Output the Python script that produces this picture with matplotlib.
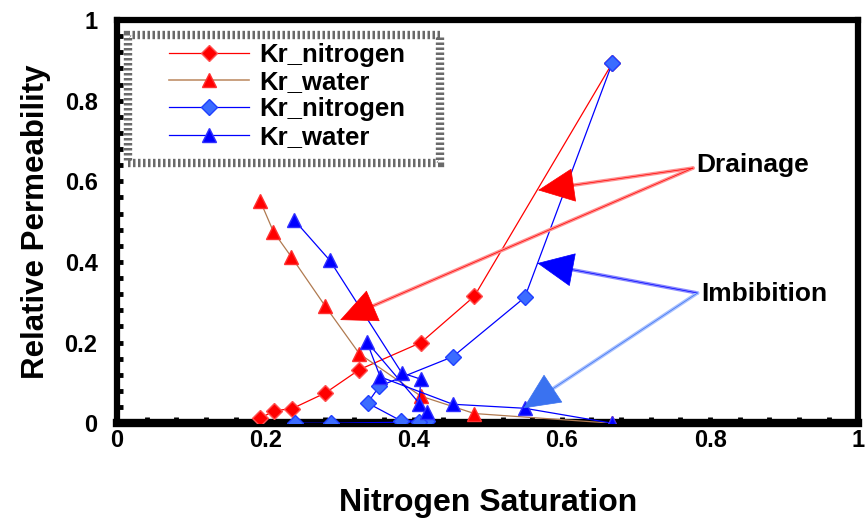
import matplotlib.pyplot as plt
from matplotlib.patches import Rectangle
from matplotlib.lines import Line2D
from matplotlib.ticker import MultipleLocator

plt.rcParams['font.family'] = ['Liberation Sans', 'DejaVu Sans']
plt.rcParams['font.weight'] = 'bold'

# drainage
dr_sat_n = [0.193, 0.212, 0.236, 0.281, 0.327, 0.410, 0.482, 0.668]
dr_kr_n = [0.012, 0.031, 0.036, 0.075, 0.133, 0.200, 0.315, 0.893]
dr_sat_w = [0.193, 0.211, 0.235, 0.281, 0.327, 0.410, 0.482, 0.668]
dr_kr_w = [0.552, 0.475, 0.413, 0.290, 0.172, 0.067, 0.024, 0.0]

# imbibition
im_sat_n = [0.668, 0.550, 0.453, 0.354, 0.338, 0.383, 0.418, 0.408, 0.288, 0.240]
im_kr_n = [0.893, 0.312, 0.165, 0.092, 0.050, 0.006, 0.006, 0.003, 0.0, 0.0]
im_sat_w = [0.239, 0.287, 0.384, 0.410, 0.407, 0.418, 0.337, 0.355, 0.453, 0.550, 0.668]
im_kr_w = [0.504, 0.404, 0.125, 0.109, 0.047, 0.027, 0.202, 0.115, 0.047, 0.037, 0.0]

ticks = [0, 0.2, 0.4, 0.6, 0.8, 1]
tick_labels = ['0', '0.2', '0.4', '0.6', '0.8', '1']

# annotation anchors / arrow tips
drain_txt = (0.777, 0.633)
drain_tips = [(0.568, 0.578), (0.301, 0.256)]
imb_txt = (0.783, 0.323)
imb_tips = [(0.567, 0.397), (0.548, 0.037)]

fig = plt.figure(figsize=(8.67, 5.29), dpi=100)
ax = fig.add_axes([0.135, 0.2, 0.855, 0.762])

ax.plot(dr_sat_n, dr_kr_n, color='red', lw=0.9, marker='D', ms=8,
        mfc='red', mec='#ff5050', zorder=3)
ax.plot(dr_sat_w, dr_kr_w, color='#b07a50', lw=0.9, marker='^', ms=9.5,
        mfc='red', mec='#ff3030', zorder=3)
ax.plot(im_sat_n, im_kr_n, color='blue', lw=0.9, marker='D', ms=8,
        mfc='#3b6cff', mec='#2040ff', zorder=4)
ax.plot(im_sat_w, im_kr_w, color='blue', lw=0.9, marker='^', ms=9.5,
        mfc='blue', mec='#3030ff', zorder=4)


def arrow(tip, anchor, line_c, head_c):
    ax.annotate('', xy=tip, xytext=anchor,
                arrowprops=dict(arrowstyle='-', color=line_c, lw=2.6,
                                shrinkA=0, shrinkB=20), zorder=5)
    ax.annotate('', xy=tip, xytext=anchor,
                arrowprops=dict(arrowstyle='-|>,head_length=1.25,head_width=0.58',
                                mutation_scale=20, fc=head_c, ec=head_c, lw=0.5,
                                shrinkA=0, shrinkB=0), zorder=6)


for t in drain_tips:
    arrow(t, drain_txt, '#ff9090', 'red')
arrow(imb_tips[0], imb_txt, '#8a8aff', 'blue')
arrow(imb_tips[1], imb_txt, '#a8c0ff', '#3a72f0')

ax.text(drain_txt[0] + 0.005, drain_txt[1] + 0.007, 'Drainage', fontsize=19,
        fontweight='bold', va='center', ha='left')
ax.text(imb_txt[0] + 0.005, imb_txt[1] - 0.002, 'Imbibition', fontsize=19,
        fontweight='bold', va='center', ha='left')

ax.set_xlim(0, 1)
ax.set_ylim(0, 1)
ax.set_xticks(ticks, tick_labels)
ax.set_yticks(ticks, tick_labels)
ax.xaxis.set_minor_locator(MultipleLocator(0.04))
ax.yaxis.set_minor_locator(MultipleLocator(0.04))
ax.tick_params(which='both', direction='in', length=4, width=3.5, color='black',
               labelsize=17, top=False, right=False)
ax.tick_params(axis='x', pad=4)
ax.tick_params(axis='y', pad=14)
for lab in ax.get_xticklabels() + ax.get_yticklabels():
    lab.set_fontweight('bold')
for s in ax.spines.values():
    s.set_linewidth(4.5)
ax.spines['bottom'].set_linewidth(6)

ax.set_xlabel('Nitrogen Saturation', fontsize=23, fontweight='bold', labelpad=26)
ax.set_ylabel('Relative Permeability', fontsize=22.5, fontweight='bold', labelpad=10)

# legend
handles = [
    Line2D([], [], color='red', lw=0.9, marker='D', ms=8, mfc='red', mec='#ff5050'),
    Line2D([], [], color='#c0906a', lw=1.2, marker='^', ms=9.5, mfc='red', mec='#ff3030'),
    Line2D([], [], color='blue', lw=0.9, marker='D', ms=8, mfc='#3b6cff', mec='#2040ff'),
    Line2D([], [], color='blue', lw=0.9, marker='^', ms=9.5, mfc='blue', mec='#3030ff'),
]
labels = ['Kr_nitrogen', 'Kr_water', 'Kr_nitrogen', 'Kr_water']
leg = ax.legend(handles, labels, loc='upper left', bbox_to_anchor=(0.070, 0.944),
                frameon=False, handlelength=3.1, handletextpad=0.4,
                labelspacing=0.13, borderpad=0, borderaxespad=0,
                prop={'weight': 'bold', 'size': 18.5})
leg.set_zorder(7)
ax.add_patch(Rectangle((0.015, 0.645), 0.421, 0.318, transform=ax.transAxes,
                       fill=False, edgecolor='#6a6a6a', lw=6,
                       linestyle=(0, (0.3, 0.3)), zorder=7))

plt.savefig('out.png', dpi=100)
